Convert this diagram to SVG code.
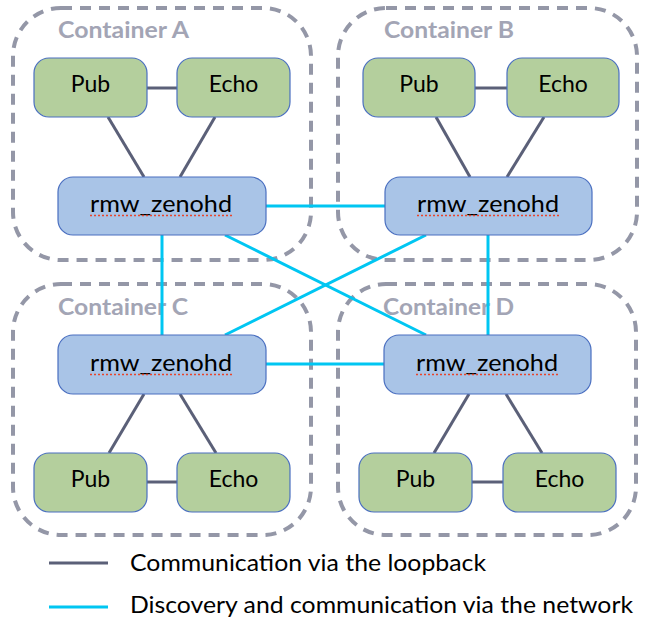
<svg xmlns="http://www.w3.org/2000/svg" width="657" height="626" viewBox="0 0 657 626">
<style>
.cont{fill:none;stroke:#9497a7;stroke-width:4;stroke-dasharray:11 8}
.clab{font-family:Lato,"Liberation Sans",Arial,sans-serif;font-weight:bold;font-size:22px;fill:#a3a5b5}
.g{fill:#b4cf9d;stroke:#4a6fc0;stroke-width:1.2}
.b{fill:#a9c4e7;stroke:#4a6fc0;stroke-width:1.2}
.t{font-family:Lato,"Liberation Sans",Arial,sans-serif;font-size:23px;fill:#000;text-anchor:middle}
.sq{stroke:#e8452c;stroke-width:1.6;stroke-dasharray:2 2}
.lo{stroke:#5b6078;stroke-width:3;fill:none}
.net{stroke:#00c6f2;stroke-width:3;fill:none}
.leg{font-family:Lato,"Liberation Sans",Arial,sans-serif;font-size:24px;fill:#000}
</style>
<rect width="657" height="626" fill="#fff"/>
<g id="containerA"><rect class="cont" x="13" y="8" width="298" height="252" rx="48"/><text class="clab" x="58" y="38" textLength="131" lengthAdjust="spacingAndGlyphs">Container A</text></g>
<g id="containerB"><rect class="cont" x="338" y="8" width="299" height="252" rx="48"/><text class="clab" x="384" y="38" textLength="130" lengthAdjust="spacingAndGlyphs">Container B</text></g>
<g id="containerC"><rect class="cont" x="13" y="284" width="298" height="251" rx="48"/><text class="clab" x="58" y="315" textLength="130" lengthAdjust="spacingAndGlyphs">Container C</text></g>
<g id="containerD"><rect class="cont" x="338" y="284" width="298" height="251" rx="48"/><text class="clab" x="383" y="315" textLength="131" lengthAdjust="spacingAndGlyphs">Container D</text></g>
<g id="connectors">
<line class="lo" x1="147" y1="88" x2="177" y2="88"/>
<line class="lo" x1="108" y1="117" x2="144" y2="177"/>
<line class="lo" x1="215" y1="117" x2="180" y2="177"/>
<line class="lo" x1="475" y1="88" x2="507" y2="88"/>
<line class="lo" x1="436" y1="117" x2="470" y2="177"/>
<line class="lo" x1="544" y1="117" x2="507" y2="177"/>
<line class="lo" x1="147" y1="482" x2="177" y2="482"/>
<line class="lo" x1="144" y1="394" x2="109" y2="453"/>
<line class="lo" x1="180" y1="394" x2="216" y2="453"/>
<line class="lo" x1="472" y1="482" x2="503" y2="482"/>
<line class="lo" x1="469" y1="394" x2="434" y2="453"/>
<line class="lo" x1="506" y1="394" x2="542" y2="453"/>
<line class="net" x1="266" y1="206" x2="385" y2="206"/>
<line class="net" x1="162" y1="235" x2="162" y2="335"/>
<line class="net" x1="225" y1="235" x2="426" y2="335"/>
<line class="net" x1="426" y1="235" x2="225" y2="335"/>
<line class="net" x1="488" y1="235" x2="488" y2="335"/>
<line class="net" x1="266" y1="364" x2="384" y2="364"/>
</g>
<g id="A_pub"><rect class="g" x="34" y="58" width="113" height="59" rx="15"/><text class="t" x="90.5" y="92">Pub</text></g>
<g id="A_echo"><rect class="g" x="177" y="58" width="113" height="59" rx="15"/><text class="t" x="233.5" y="92">Echo</text></g>
<g id="A_rmw"><rect class="b" x="58" y="177" width="208" height="58" rx="15"/><text class="t" x="161" y="212" textLength="142" lengthAdjust="spacingAndGlyphs">rmw_zenohd</text><line class="sq" x1="90" y1="215.5" x2="232" y2="215.5"/></g>
<g id="B_pub"><rect class="g" x="363" y="58" width="112" height="59" rx="15"/><text class="t" x="419" y="92">Pub</text></g>
<g id="B_echo"><rect class="g" x="507" y="58" width="112" height="59" rx="15"/><text class="t" x="563" y="92">Echo</text></g>
<g id="B_rmw"><rect class="b" x="385" y="177" width="207" height="58" rx="15"/><text class="t" x="488" y="212" textLength="142" lengthAdjust="spacingAndGlyphs">rmw_zenohd</text><line class="sq" x1="417" y1="215.5" x2="559" y2="215.5"/></g>
<g id="C_rmw"><rect class="b" x="58" y="335" width="208" height="59" rx="15"/><text class="t" x="161" y="371" textLength="142" lengthAdjust="spacingAndGlyphs">rmw_zenohd</text><line class="sq" x1="90" y1="374.5" x2="232" y2="374.5"/></g>
<g id="C_pub"><rect class="g" x="34" y="453" width="113" height="59" rx="15"/><text class="t" x="90.5" y="487">Pub</text></g>
<g id="C_echo"><rect class="g" x="177" y="453" width="113" height="59" rx="15"/><text class="t" x="233.5" y="487">Echo</text></g>
<g id="D_rmw"><rect class="b" x="384" y="335" width="207" height="59" rx="15"/><text class="t" x="487" y="371" textLength="142" lengthAdjust="spacingAndGlyphs">rmw_zenohd</text><line class="sq" x1="416" y1="374.5" x2="558" y2="374.5"/></g>
<g id="D_pub"><rect class="g" x="359" y="453" width="113" height="59" rx="15"/><text class="t" x="415.5" y="487">Pub</text></g>
<g id="D_echo"><rect class="g" x="503" y="453" width="113" height="59" rx="15"/><text class="t" x="559.5" y="487">Echo</text></g>
<g id="legend">
<line class="lo" x1="49" y1="563" x2="108" y2="563"/>
<text class="leg" x="130" y="571" textLength="356" lengthAdjust="spacingAndGlyphs">Communication via the loopback</text>
<line class="net" x1="49" y1="607" x2="108" y2="607"/>
<text class="leg" x="130" y="613" textLength="503" lengthAdjust="spacingAndGlyphs">Discovery and communication via the network</text>
</g>
</svg>
